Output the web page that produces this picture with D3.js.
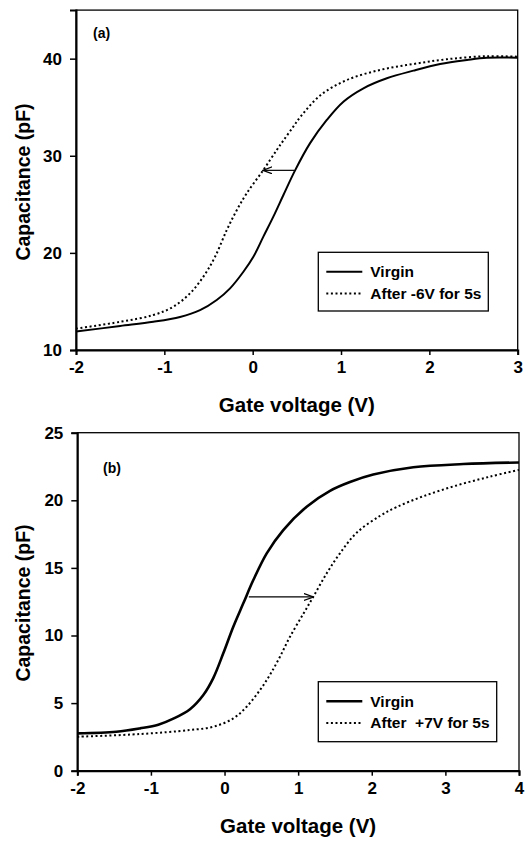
<!DOCTYPE html>
<html>
<head>
<meta charset="utf-8">
<script src="https://cdn.jsdelivr.net/npm/d3@7"></script>
<style>
  body { margin: 0; background: #fff; }
  text { font-family: "Liberation Sans", Arial, sans-serif; font-weight: bold; fill: #000; }
</style>
</head>
<body>
<script>
// panel (a): virgin vs after -6V
const virginVoltsA = [-2, -1.5, -1.125, -0.822, -0.596, -0.407, -0.256, -0.105, 0.008, 0.121, 0.234, 0.348, 0.48, 0.65, 0.839, 1.027, 1.254, 1.519, 1.82, 2.122, 2.425, 2.651, 3];
const virginCapA = [11.9, 12.47, 12.9, 13.4, 14.1, 15.15, 16.35, 18.06, 19.6, 21.67, 23.73, 25.96, 28.5, 31.3, 33.69, 35.57, 36.95, 37.98, 38.77, 39.45, 39.87, 40.1, 40.1];
const stressVoltsA = [-2, -1.5, -1.125, -0.898, -0.709, -0.558, -0.426, -0.293, -0.18, -0.067, 0.121, 0.273, 0.35, 0.46, 0.54, 0.763, 1.066, 1.443, 1.82, 2.198, 2.651, 3];
const stressCapA = [12.2, 12.9, 13.6, 14.46, 15.84, 17.55, 19.6, 22.36, 24.4, 26.14, 28.54, 30.6, 31.6, 33.0, 34.0, 36.2, 37.8, 38.84, 39.45, 39.94, 40.25, 40.2];

// panel (b): virgin vs after +7V
const virginVoltsB = [-2, -1.47, -1.148, -0.9, -0.696, -0.469, -0.288, -0.153, -0.017, 0.119, 0.255, 0.391, 0.573, 0.798, 1.116, 1.433, 1.704, 2.02, 2.564, 3.243, 4];
const virginCapB = [2.76, 2.88, 3.13, 3.4, 3.85, 4.55, 5.6, 6.85, 8.68, 10.65, 12.38, 14.1, 16.08, 17.8, 19.53, 20.7, 21.35, 21.9, 22.44, 22.68, 22.8];
const stressVoltsB = [-2, -1.148, -0.469, -0.153, 0.119, 0.3, 0.482, 0.618, 0.753, 0.889, 1.07, 1.206, 1.388, 1.568, 1.795, 2.112, 2.338, 2.7, 3.154, 3.606, 4];
const stressCapB = [2.51, 2.71, 3.01, 3.25, 3.87, 4.73, 5.97, 7.1, 8.43, 9.91, 11.6, 12.87, 14.6, 16.08, 17.6, 18.85, 19.5, 20.3, 21.1, 21.75, 22.25];

const xTicksA = [-2, -1, 0, 1, 2, 3];
const yTicksA = [10, 20, 30, 40];
const xTicksB = [-2, -1, 0, 1, 2, 3, 4];
const yTicksB = [0, 5, 10, 15, 20, 25];

const legendA = ['Virgin', 'After -6V for 5s'];
const legendB = ['Virgin', 'After\u00a0\u00a0+7V for 5s'];

const svg = d3.select('body').append('svg')
  .attr('width', 530)
  .attr('height', 844);

svg.append('defs').append('marker')
  .attr('id', 'head')
  .attr('viewBox', '0 0 10 8')
  .attr('refX', 9).attr('refY', 4)
  .attr('markerWidth', 10).attr('markerHeight', 8)
  .attr('markerUnits', 'userSpaceOnUse')
  .attr('orient', 'auto')
  .append('path')
  .attr('d', 'M0,0.5 L9.5,4 L0,7.5')
  .attr('fill', 'none')
  .attr('stroke', '#000')
  .attr('stroke-width', 1.2);

function zip(xs, ys) {
  return xs.map((x, i) => [x, ys[i]]);
}

function drawPanel(o) {
  const x = d3.scaleLinear().domain(o.xDomain).range([o.left, o.right]);
  const y = d3.scaleLinear().domain(o.yDomain).range([o.bottom, o.top]);
  const g = svg.append('g');

  // frame
  g.append('rect')
    .attr('x', o.left).attr('y', o.top)
    .attr('width', o.right - o.left).attr('height', o.bottom - o.top)
    .attr('fill', 'none').attr('stroke', '#000').attr('stroke-width', 1.3);

  const xAxis = g.append('g')
    .attr('transform', `translate(0,${o.bottom})`)
    .call(d3.axisBottom(x).tickValues(o.xTicks).tickSize(5).tickPadding(6).tickFormat(d => String(d)));
  const yAxis = g.append('g')
    .attr('transform', `translate(${o.left},0)`)
    .call(d3.axisLeft(y).tickValues(o.yTicks).tickSize(6).tickPadding(8).tickFormat(d => String(d)));
  [xAxis, yAxis].forEach(a => {
    a.select('.domain').attr('stroke-width', 2);
    a.selectAll('.tick line').attr('stroke-width', 1.5);
    a.selectAll('text').attr('font-size', 17).attr('font-family', null);
  });

  g.append('text')
    .attr('x', (o.left + o.right) / 2).attr('y', o.bottom + 62)
    .attr('text-anchor', 'middle').attr('font-size', 20.5)
    .text('Gate voltage (V)');
  g.append('text')
    .attr('transform', `translate(29.5,${o.yTitle}) rotate(-90)`)
    .attr('text-anchor', 'middle').attr('font-size', 19.5)
    .text('Capacitance (pF)');

  g.append('text')
    .attr('x', o.tag[0]).attr('y', o.tag[1])
    .attr('font-size', 14)
    .text(o.tagText);

  const line = d3.line()
    .x(d => x(d[0])).y(d => y(d[1]))
    .curve(d3.curveCatmullRom.alpha(0.5));

  g.append('path')
    .datum(o.virgin)
    .attr('d', line)
    .attr('fill', 'none').attr('stroke', '#000').attr('stroke-width', o.solidWidth);
  g.append('path')
    .datum(o.stress)
    .attr('d', line)
    .attr('fill', 'none').attr('stroke', '#000').attr('stroke-width', 2)
    .attr('stroke-dasharray', '2,2.6');

  g.append('line')
    .attr('x1', x(o.arrow[0])).attr('x2', x(o.arrow[1]))
    .attr('y1', y(o.arrow[2])).attr('y2', y(o.arrow[2]))
    .attr('stroke', '#000').attr('stroke-width', 1.2)
    .attr('marker-end', 'url(#head)');

  // legend
  const [lx, ly, lw, lh] = o.legendBox;
  const lg = g.append('g').attr('transform', `translate(${lx},${ly})`);
  lg.append('rect')
    .attr('width', lw).attr('height', lh)
    .attr('fill', '#fff').attr('stroke', '#000').attr('stroke-width', 1.3);
  o.legend.forEach((label, i) => {
    const yy = 19.5 + i * 21.7;
    lg.append('line')
      .attr('x1', 8).attr('x2', 44).attr('y1', yy).attr('y2', yy)
      .attr('stroke', '#000')
      .attr('stroke-width', i === 0 ? o.solidWidth : 2)
      .attr('stroke-dasharray', i === 0 ? null : '2,2.6');
    lg.append('text')
      .attr('x', 52).attr('y', yy + 5.5)
      .attr('font-size', 15.5)
      .text(label);
  });
}

drawPanel({
  left: 76, right: 517.7, top: 10.1, bottom: 350,
  xDomain: [-2, 3], yDomain: [10, 45],
  xTicks: xTicksA, yTicks: yTicksA,
  virgin: zip(virginVoltsA, virginCapA),
  stress: zip(stressVoltsA, stressCapA),
  solidWidth: 2,
  arrow: [0.47, 0.12, 28.5],
  legend: legendA,
  legendBox: [318.3, 252.3, 170, 58.7],
  tag: [93, 38], tagText: '(a)',
  yTitle: 182
});

drawPanel({
  left: 77.3, right: 519, top: 432.7, bottom: 770.7,
  xDomain: [-2, 4], yDomain: [0, 25],
  xTicks: xTicksB, yTicks: yTicksB,
  virgin: zip(virginVoltsB, virginCapB),
  stress: zip(stressVoltsB, stressCapB),
  solidWidth: 2.6,
  arrow: [0.33, 1.2, 12.85],
  legend: legendB,
  legendBox: [318.3, 681.7, 178.4, 60],
  tag: [103, 473], tagText: '(b)',
  yTitle: 603
});
</script>
</body>
</html>
